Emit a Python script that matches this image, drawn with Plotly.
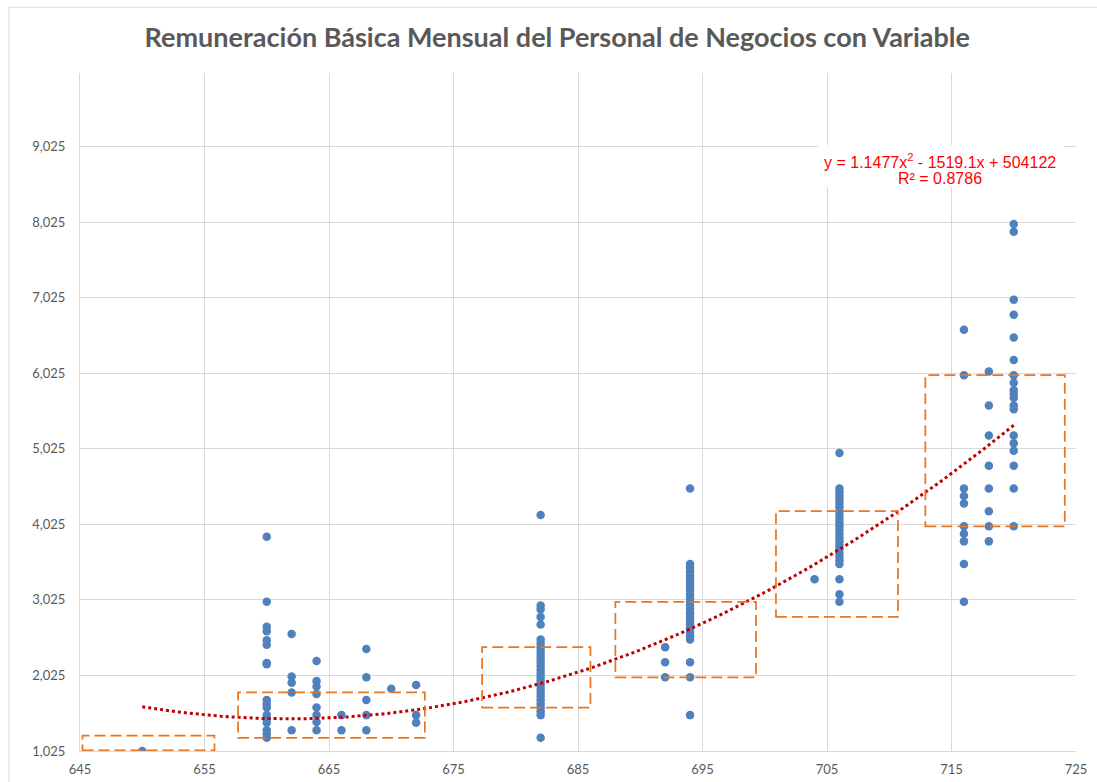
import numpy as np
import plotly.graph_objects as go

# ---- data ----
y_650 = [1025]
y_660 = [3860, 3000, 2670, 2610, 2490, 2430, 2190, 2175, 1700, 1650, 1600, 1500, 1450, 1400, 1300, 1250, 1200]
y_662 = [2575, 2010, 1930, 1800, 1300]
y_664 = [2215, 1950, 1880, 1780, 1600, 1500, 1410, 1300]
y_666 = [1500, 1300]
y_668 = [2375, 2000, 1700, 1500, 1300]
y_670 = [1850]
y_672 = [1900, 1500, 1400]
y_682 = [4150, 2950, 2900, 2800, 2700, 2500, 2450, 2400, 2350, 2300, 2250, 2200, 2150, 2100,
         2050, 2000, 1950, 1900, 1850, 1800, 1750, 1700, 1650, 1600, 1550, 1500, 1200]
y_692 = [2400, 2200, 2000]
y_694 = [4500, 3500, 3450, 3400, 3350, 3300, 3250, 3200, 3150, 3100, 3050, 3000, 2950, 2900,
         2850, 2800, 2750, 2700, 2650, 2600, 2550, 2500, 2200, 2000, 1500]
y_704 = [3300]
y_706 = [4970, 4500, 4450, 4400, 4350, 4300, 4250, 4200, 4150, 4100, 4050, 4000, 3950, 3900,
         3850, 3800, 3750, 3700, 3650, 3600, 3550, 3500, 3300, 3100, 3000]
y_716 = [6600, 6000, 4500, 4400, 4300, 4000, 3900, 3800, 3500, 3000]
y_718 = [6050, 5600, 5200, 4800, 4500, 4200, 4000, 3800]
y_720 = [8000, 7900, 7000, 6800, 6500, 6200, 6000, 5900, 5800, 5750, 5700, 5600, 5550,
         5200, 5100, 5000, 4800, 4500, 4000]

columns = {650: y_650, 660: y_660, 662: y_662, 664: y_664, 666: y_666, 668: y_668,
           670: y_670, 672: y_672, 682: y_682, 692: y_692, 694: y_694, 704: y_704,
           706: y_706, 716: y_716, 718: y_718, 720: y_720}

# trendline shown in the chart
coef_a, coef_b, coef_c = 1.1477, -1519.1, 504122
trend_x_min, trend_x_max = 650, 720
eq_line1 = "y = 1.1477x<sup>2</sup> - 1519.1x + 504122"
eq_line2 = "R² = 0.8786"

# dashed highlight boxes (data coordinates)
box_x0 = [645.2, 657.7, 677.3, 688.0, 700.9, 712.9]
box_x1 = [655.8, 672.7, 686.0, 699.3, 710.7, 724.1]
box_y0 = [1032, 1200, 1600, 2000, 2800, 4000]
box_y1 = [1230, 1800, 2400, 3000, 4200, 6000]

x_ticks = [645, 655, 665, 675, 685, 695, 705, 715, 725]
y_ticks = [1025, 2025, 3025, 4025, 5025, 6025, 7025, 8025, 9025]
y_ticktext = ["1,025", "2,025", "3,025", "4,025", "5,025", "6,025", "7,025", "8,025", "9,025"]

title = "Remuneración Básica Mensual del Personal de Negocios con Variable"

# ---- build ----
xs, ys = [], []
for k, v in columns.items():
    xs += [k] * len(v)
    ys += v

tx = np.linspace(trend_x_min, trend_x_max, 200)
ty = coef_a * tx ** 2 + coef_b * tx + coef_c

fig = go.Figure()
fig.add_trace(go.Scatter(x=xs, y=ys, mode="markers",
                         marker=dict(size=8.5, color="#4F81BD", line=dict(width=0)),
                         showlegend=False, hoverinfo="x+y"))
fig.add_trace(go.Scatter(x=tx, y=ty, mode="lines",
                         line=dict(color="#C00000", width=3, dash="dot"),
                         showlegend=False, hoverinfo="skip"))

for a, b, c, d in zip(box_x0, box_x1, box_y0, box_y1):
    fig.add_shape(type="rect", xref="x", yref="y", x0=a, x1=b, y0=c, y1=d,
                  line=dict(color="#E87722", width=1.75, dash="11px,5px"),
                  fillcolor="rgba(0,0,0,0)", layer="above")

# outer chart border
fig.add_shape(type="rect", xref="paper", yref="paper", x0=-0.0713, x1=1.2, y0=-0.3, y1=1.097,
              line=dict(color="#D9D9D9", width=1), fillcolor="rgba(0,0,0,0)", layer="below")

# white label background for the equation
fig.add_shape(type="rect", xref="x", yref="y", x0=704.3, x1=724.0, y0=8491, y1=9047,
              line=dict(width=0), fillcolor="white", layer="above")

eq_font = dict(family="Liberation Sans, Arial", size=16, color="#FF0000")
fig.add_annotation(x=714.1, y=8839, xref="x", yref="y", text=eq_line1, showarrow=False,
                   font=eq_font, align="center")
fig.add_annotation(x=714.1, y=8600, xref="x", yref="y", text=eq_line2, showarrow=False,
                   font=eq_font, align="center")

fig.update_layout(
    width=1097, height=782,
    margin=dict(l=80, r=21, t=73, b=31, autoexpand=False),
    paper_bgcolor="white", plot_bgcolor="white",
    title=dict(text=title, x=0.508, xanchor="center", y=1 - 38 / 782, yanchor="middle",
               yref="container",
               font=dict(family="Lato", size=27, color="#595959", weight="bold")),
    font=dict(family="Lato", size=13, color="#595959"),
)
fig.update_xaxes(range=[645, 725], tickvals=x_ticks, showgrid=True, gridcolor="#D9D9D9",
                 gridwidth=1, showline=True, linecolor="#D9D9D9", linewidth=1, zeroline=False,
                 ticks="", ticklabelstandoff=6, automargin=False)
fig.update_yaxes(range=[1025, 10000], tickvals=y_ticks, ticktext=y_ticktext, showgrid=True,
                 gridcolor="#D9D9D9", gridwidth=1, showline=True, linecolor="#D9D9D9",
                 linewidth=1, zeroline=False, ticks="", ticklabelstandoff=11, automargin=False)

fig.write_html("out.html", config={"displayModeBar": False},
               post_script="document.body.style.margin='0';document.body.style.overflow='hidden';")
